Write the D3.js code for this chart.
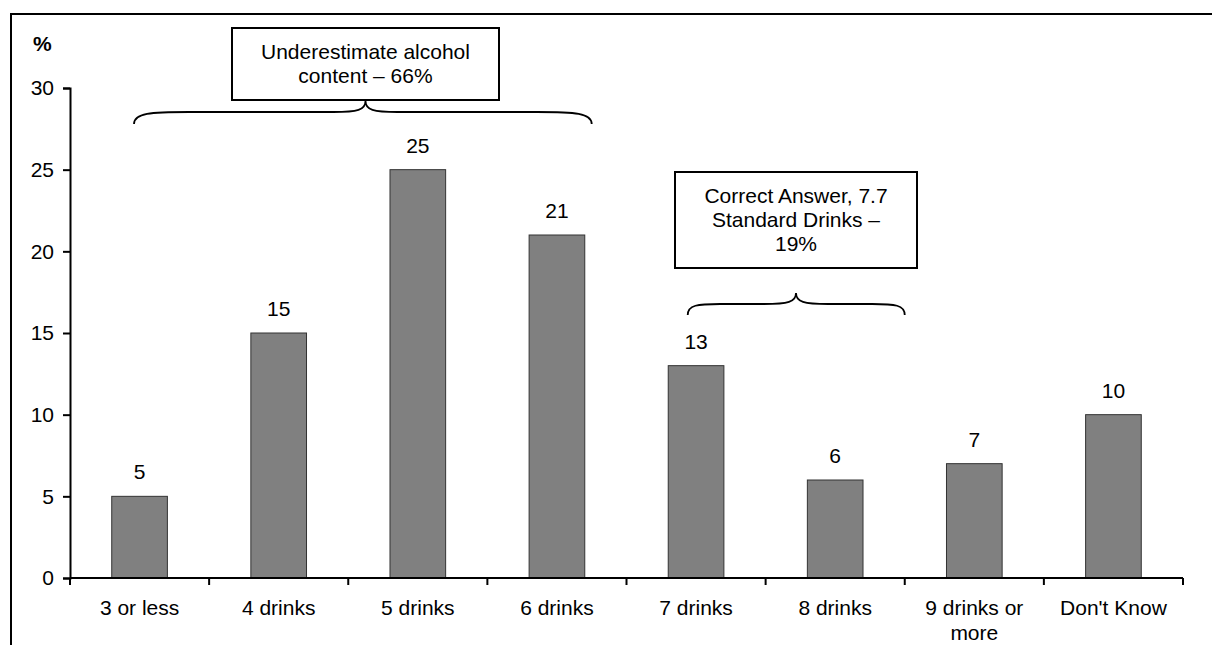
<!DOCTYPE html>
<html>
<head>
<meta charset="utf-8">
<script src="https://cdn.jsdelivr.net/npm/d3@7/dist/d3.min.js"></script>
<style>
  html, body { margin: 0; padding: 0; background: #fff; }
  svg { display: block; }
  text { font-family: Arial, "Liberation Sans", sans-serif; fill: #000; }
</style>
</head>
<body>
<svg id="chart" width="1212" height="645"></svg>
<script>
const categories = ["3 or less", "4 drinks", "5 drinks", "6 drinks", "7 drinks", "8 drinks", "9 drinks or more", "Don't Know"];
const values = [5, 15, 25, 21, 13, 6, 7, 10];
const yTicks = [0, 5, 10, 15, 20, 25, 30];
const yAxisTitle = "%";
const annotation1 = ["Underestimate alcohol", "content \u2013 66%"];
const annotation2 = ["Correct Answer, 7.7", "Standard Drinks \u2013", "19%"];

const FS = 21;
const svg = d3.select("#chart");

// outer frame (extends beyond the picture on right and bottom)
svg.append("rect")
  .attr("x", 11).attr("y", 14)
  .attr("width", 1300).attr("height", 700)
  .attr("fill", "none").attr("stroke", "#000").attr("stroke-width", 2);

const x = d3.scaleBand().domain(categories).range([70, 1183]).padding(0);
const y = d3.scaleLinear().domain([0, 30]).range([578, 88]);
const bw = x.bandwidth();
const barW = bw * 0.4;

// bars
svg.append("g").selectAll("rect")
  .data(values)
  .join("rect")
  .attr("x", (d, i) => x(categories[i]) + (bw - barW) / 2)
  .attr("y", d => y(d))
  .attr("width", barW)
  .attr("height", d => y(0) - y(d))
  .attr("fill", "#808080")
  .attr("stroke", "#333")
  .attr("stroke-width", 1);

// value labels
svg.append("g").selectAll("text")
  .data(values)
  .join("text")
  .attr("x", (d, i) => x(categories[i]) + bw / 2)
  .attr("y", d => y(d) - 17)
  .attr("text-anchor", "middle")
  .style("font-size", FS + "px")
  .text(d => d);

// y axis
const yAxis = svg.append("g")
  .attr("transform", "translate(70,0)")
  .call(d3.axisLeft(y).tickValues(yTicks).tickSize(7).tickPadding(9));
yAxis.selectAll("path, line").attr("stroke", "#000").attr("stroke-width", 2);
yAxis.selectAll("text").style("font-size", FS + "px").attr("font-family", null).attr("fill", "#000");

svg.append("text")
  .attr("x", 33).attr("y", 51)
  .style("font-size", FS + "px").style("font-weight", "bold")
  .text(yAxisTitle);

// x axis: line + boundary ticks
const xg = svg.append("g");
const [r0, r1] = x.range();
xg.append("line")
  .attr("x1", r0).attr("x2", r1)
  .attr("y1", y(0)).attr("y2", y(0))
  .attr("stroke", "#000").attr("stroke-width", 2);
const bounds = categories.map(c => x(c)).concat([r1]);
xg.selectAll("line.tick")
  .data(bounds)
  .join("line")
  .attr("class", "tick")
  .attr("x1", d => d).attr("x2", d => d)
  .attr("y1", y(0)).attr("y2", y(0) + 7)
  .attr("stroke", "#000").attr("stroke-width", 2);

// x labels with wrapping
const measurer = svg.append("text").style("font-size", FS + "px").attr("visibility", "hidden");
function textW(s) { measurer.text(s); return measurer.node().getComputedTextLength(); }
function wrap(s, maxW) {
  const words = s.split(" ");
  const lines = [];
  let cur = "";
  words.forEach(w => {
    const t = cur ? cur + " " + w : w;
    if (cur && textW(t) > maxW) { lines.push(cur); cur = w; } else { cur = t; }
  });
  if (cur) lines.push(cur);
  return lines;
}
categories.forEach(c => {
  const lines = wrap(c, 115);
  const t = xg.append("text")
    .attr("text-anchor", "middle")
    .style("font-size", FS + "px");
  lines.forEach((ln, i) => {
    t.append("tspan")
      .attr("x", x(c) + bw / 2)
      .attr("y", y(0) + 37 + i * 25)
      .text(ln);
  });
});
measurer.remove();

// brace helper
function brace(x0, x1, xm, yTip, yFlat, yPoint) {
  const p = d3.path();
  const r = Math.min(55, (xm - x0) * 0.3);
  const r2 = 32;
  p.moveTo(x0, yTip);
  p.bezierCurveTo(x0, yFlat + 1, x0 + r * 0.3, yFlat, x0 + r, yFlat);
  p.lineTo(xm - r2, yFlat);
  p.bezierCurveTo(xm - 8, yFlat, xm, yFlat - 2, xm, yPoint);
  p.bezierCurveTo(xm, yFlat - 2, xm + 8, yFlat, xm + r2, yFlat);
  p.lineTo(x1 - r, yFlat);
  p.bezierCurveTo(x1 - r * 0.3, yFlat, x1, yFlat + 1, x1, yTip);
  return p.toString();
}

function annotate(lines, boxX0, boxX1, boxY0, boxY1, lineH, bx0, bx1, yTip, yFlat, yPoint) {
  const g = svg.append("g");
  const cx = (boxX0 + boxX1) / 2;
  g.append("rect")
    .attr("x", boxX0).attr("y", boxY0)
    .attr("width", boxX1 - boxX0).attr("height", boxY1 - boxY0)
    .attr("fill", "#fff").attr("stroke", "#000").attr("stroke-width", 2);
  const n = lines.length;
  const midY = (boxY0 + boxY1) / 2;
  const t = g.append("text").attr("text-anchor", "middle").style("font-size", FS + "px");
  lines.forEach((ln, i) => {
    t.append("tspan")
      .attr("x", cx)
      .attr("y", midY + (i - (n - 1) / 2) * lineH + 7)
      .text(ln);
  });
  g.append("path")
    .attr("d", brace(bx0, bx1, cx, yTip, yFlat, yPoint))
    .attr("fill", "none").attr("stroke", "#000").attr("stroke-width", 1.8);
}

annotate(annotation1, 232, 499, 28, 100, 24,
  x(categories[0]) + 0.46 * bw, x(categories[3]) + 0.75 * bw, 124, 112, 101);
annotate(annotation2, 675, 917, 172, 268, 24,
  x(categories[4]) + 0.44 * bw, x(categories[5]) + 1.0 * bw, 315, 304, 293);
</script>
</body>
</html>
